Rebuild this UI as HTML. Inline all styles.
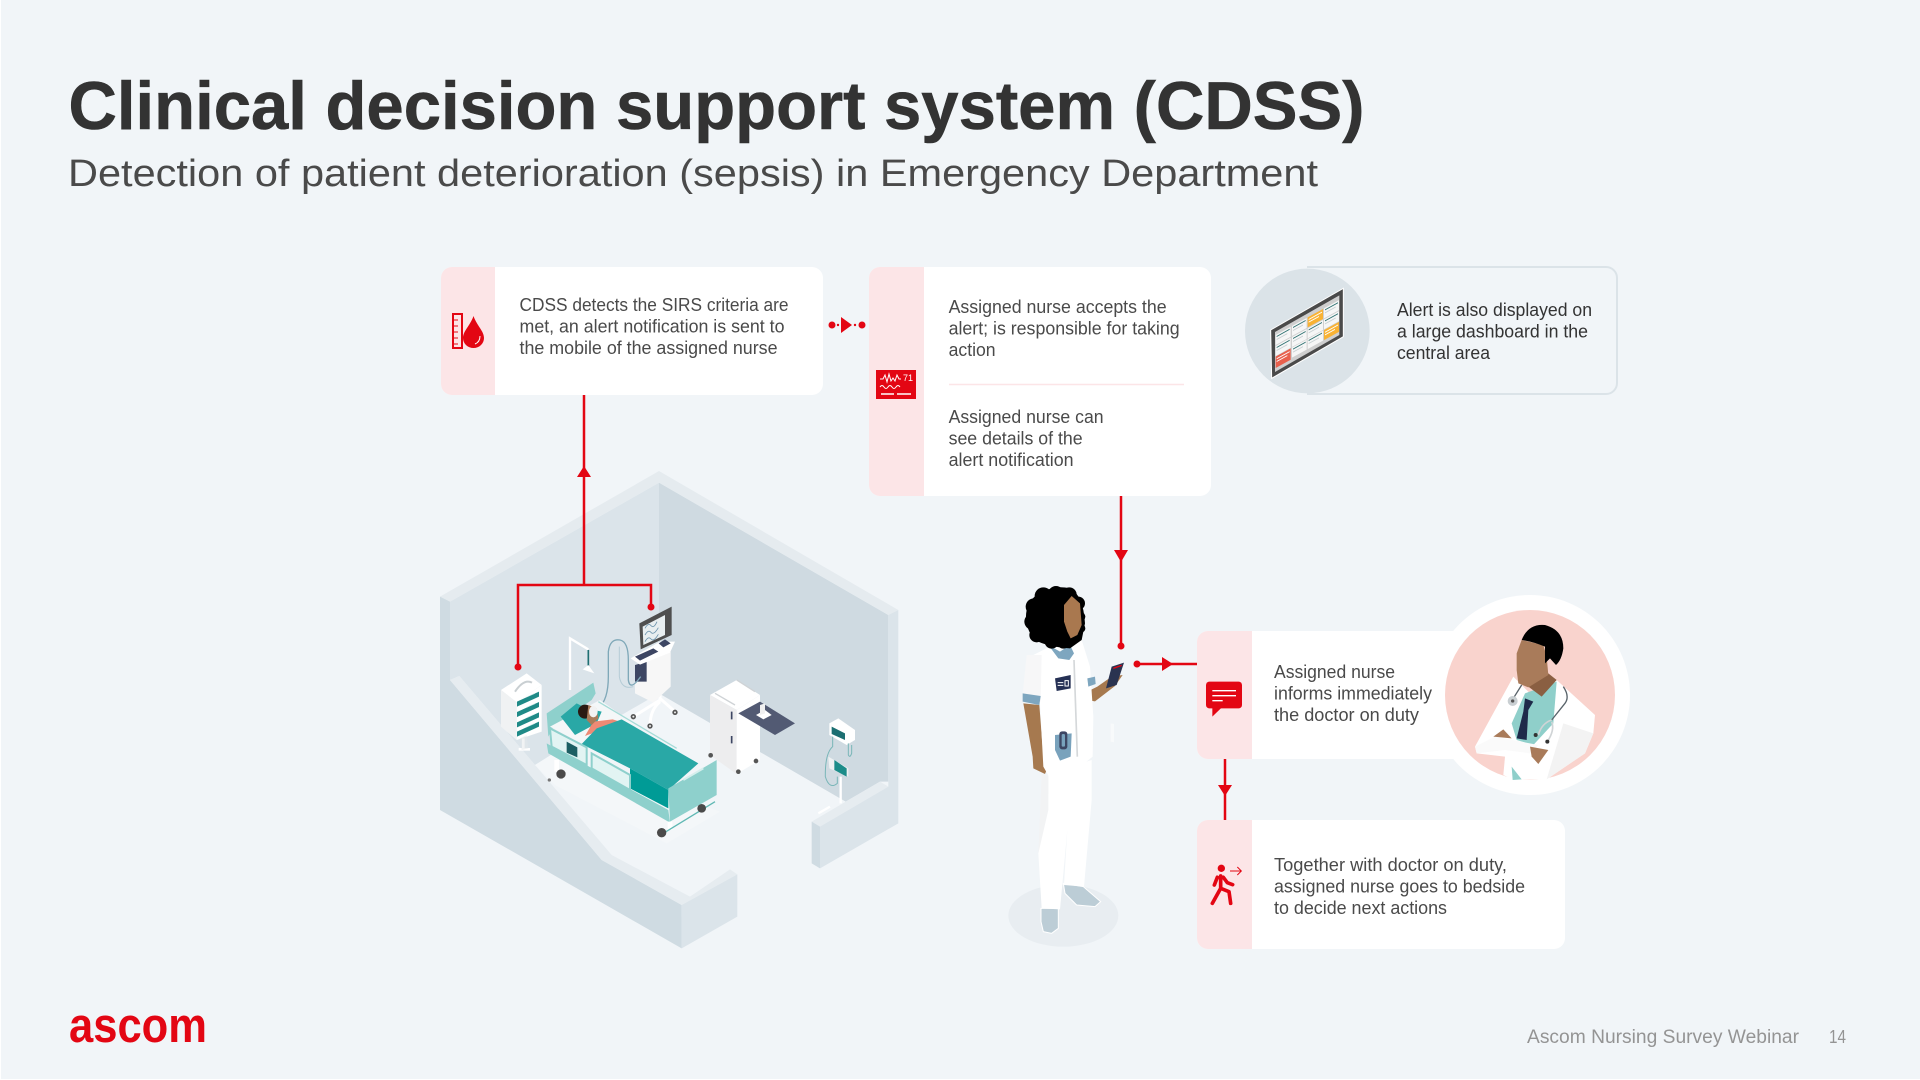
<!DOCTYPE html>
<html lang="en"><head><meta charset="utf-8"><title>Clinical decision support system (CDSS)</title>
<style>
html,body{margin:0;padding:0;background:#fff;width:1920px;height:1080px;overflow:hidden}
svg{display:block}
text{font-family:"Liberation Sans",sans-serif}
.t{font-size:18px;fill:#4a4a4a}
.d{font-size:18px;fill:#333}
</style></head><body>
<svg width="1920" height="1080" viewBox="0 0 1920 1080" xmlns="http://www.w3.org/2000/svg">
<rect x="1" y="0" width="1919" height="1079" fill="#f1f5f8"/>

<!-- Titles -->
<text x="68.500" y="129" font-size="68" font-weight="700" fill="#333" stroke="#333" stroke-width=".6" textLength="1296" lengthAdjust="spacingAndGlyphs">Clinical decision support system (CDSS)</text>
<text x="68" y="186" font-size="38" fill="#4a4a4a" textLength="1250" lengthAdjust="spacingAndGlyphs">Detection of patient deterioration (sepsis) in Emergency Department</text>

<!-- Room -->
<g transform="translate(420,460) scale(.33333)">
<polygon points="90,425 717,68 717,700 345,915 118,648 90,660" fill="#dbe4ea"/>
<polygon points="717,68 1405,465 1405,965 1380,965 1277,1025 717,700" fill="#cfdae1"/>
<polygon points="60,410 717,33 1435,450 1405,465 717,68 90,425" fill="#e5ebef"/>
<polygon points="60,410 90,425 90,660 545,1200 785,1335 785,1465 60,1050" fill="#cfdbe2"/>
<polygon points="90,660 118,648 575,1185 810,1310 930,1228 952,1243 785,1335 545,1200" fill="#e6ecf0"/>
<polygon points="785,1335 952,1243 952,1370 785,1465" fill="#dbe4ea"/>
<polygon points="1175,1085 1380,965 1405,980 1200,1100" fill="#e6ecf0"/>
<polygon points="1175,1085 1200,1100 1200,1225 1175,1210" fill="#cfdbe2"/>
<polygon points="1405,465 1435,450 1435,1090 1200,1225 1200,1100 1405,980" fill="#dbe4ea"/>
<polygon points="345,915 400,880 900,1055 740,1150 405,975" fill="#f4f7f9"/>

<!-- IV pole -->
<path d="M450,690 L450,535 L505,568" fill="none" stroke="#fff" stroke-width="7"/>
<path d="M505,570 V618" stroke="#1f6f72" stroke-width="5"/>
<polygon points="488,628 505,615 523,640 505,634" fill="#fff"/>

<!-- Ventilator -->
<path d="M720,700 L720,725 M720,720 L640,770 M720,715 L765,755 M720,725 Q690,750 690,797" stroke="#fff" stroke-width="9" fill="none"/>
<circle cx="640" cy="770" r="8" fill="#555"/><circle cx="690" cy="798" r="8" fill="#555"/><circle cx="765" cy="757" r="8" fill="#555"/>
<circle cx="640" cy="770" r="3" fill="#eee"/><circle cx="690" cy="798" r="3" fill="#eee"/><circle cx="765" cy="757" r="3" fill="#eee"/>
<polygon points="665,610 752,575 752,680 700,728 645,700 645,620" fill="#f7f7f7"/>
<polygon points="645,615 680,605 680,665 645,665" fill="#3d4663"/>
<path d="M535,745 Q565,720 565,650 L565,575 Q570,535 600,540 Q625,545 625,600 L625,660 Q630,695 662,650" fill="none" stroke="#7fa8b8" stroke-width="4"/>
<path d="M598,560 V650 Q605,690 640,680" fill="none" stroke="#b5ccd6" stroke-width="3"/>
<polygon points="632,595 720,545 765,545 750,578 660,614" fill="#fff"/>
<polygon points="645,590 700,565 715,575 660,602" fill="#3d4663"/>
<polygon points="716,550 735,538 752,550 730,562" fill="#3d4663"/>
<polygon points="658,490 755,440 755,525 662,568" fill="#4f4f4f"/>
<polygon points="668,500 735,465 735,525 670,555" fill="#e8eef0"/>
<path d="M675,505 q10,-18 18,-8 t18,-12 M675,525 q10,-18 18,-8 t22,-14 M675,545 q10,-18 18,-8 t22,-14" fill="none" stroke="#6d94ad" stroke-width="2.500"/>

<!-- Pump cabinet -->
<polygon points="243,690 320,640 365,675 290,727" fill="#fff"/>
<polygon points="243,690 290,727 290,840 243,800" fill="#f0f2f3"/>
<polygon points="290,727 365,675 365,815 290,840" fill="#fff"/>
<path d="M285,695 Q312,655 336,668" fill="none" stroke="#c9cfd2" stroke-width="6"/>
<g fill="#1f8a87">
<polygon points="291,725 357,695 357,710 291,740"/><polygon points="291,756 357,726 357,741 291,771"/>
<polygon points="291,787 357,757 357,772 291,802"/><polygon points="291,815 357,785 357,800 291,830"/>
</g>
<path d="M320,711 L345,700 M320,742 L345,731 M320,773 L345,762 M320,801 L345,790" stroke="#cfe9e8" stroke-width="2"/>
<path d="M310,835 V865 M296,868 H330" stroke="#fff" stroke-width="8"/>
<polygon points="300,835 320,825 325,865 305,870" fill="#e4e7e9" opacity=".5"/>

<!-- Bed -->
<polygon points="380,760 520,668 527,700 515,720 400,800 385,830" fill="#8ed0cc"/>
<polygon points="390,800 540,720 640,790 500,860" fill="#f4f7f8"/>
<polygon points="422,770 470,730 500,745 545,755 530,790 465,825" fill="#29a8a6"/>
<polygon points="495,828 520,785 578,778 600,785 530,815" fill="#ee8a75"/>
<circle cx="495" cy="755" r="21" fill="#2a1a12"/>
<polygon points="505,735 530,745 535,775 515,795 500,780" fill="#a97b5a"/>
<ellipse cx="520" cy="755" rx="13" ry="17" fill="#f2f2f2"/>
<path d="M535,725 L770,865" stroke="#a5dbd7" stroke-width="4" fill="none"/>
<polygon points="485,852 530,805 605,778 835,910 745,990 630,925" fill="#29a8a6"/>
<polygon points="630,925 745,990 745,1045 630,985" fill="#009b96"/>
<polygon points="380,850 745,1050 750,1088 385,880" fill="#8ed0cc"/>
<polygon points="390,805 500,862 500,915 395,860" fill="#e2f4f3" stroke="#8ed0cc" stroke-width="6"/>
<polygon points="440,845 472,862 472,892 440,878" fill="#1c5f63"/>
<polygon points="515,880 630,945 630,990 515,925" fill="#e2f4f3" stroke="#8ed0cc" stroke-width="6"/>
<polygon points="745,985 890,900 890,1005 750,1085" fill="#8ed0cc"/>
<path d="M790,960 L850,925" stroke="#d5efed" stroke-width="6"/>
<path d="M410,900 V935 M750,1085 V1110" stroke="#fff" stroke-width="14"/>
<path d="M738,1115 L885,1025" stroke="#5fb8b3" stroke-width="4"/>
<circle cx="423" cy="942" r="14" fill="#4a4a4a"/><circle cx="725" cy="1118" r="14" fill="#4a4a4a"/><circle cx="845" cy="1045" r="13" fill="#4a4a4a"/>
<circle cx="388" cy="960" r="5" fill="#777"/>

<!-- Cart -->
<polygon points="870,705 950,660 1020,705 950,750" fill="#fff"/>
<polygon points="870,705 950,750 950,942 870,885" fill="#ededee"/>
<polygon points="950,750 1020,705 1020,900 950,942" fill="#fff"/>
<path d="M885,700 L945,735 M950,660 L1005,695" stroke="#cfd3d6" stroke-width="4"/>
<path d="M935,755 V778 M935,828 V850" stroke="#3d4663" stroke-width="5"/>
<circle cx="872" cy="886" r="7" fill="#555"/><circle cx="955" cy="935" r="7" fill="#555"/><circle cx="1008" cy="903" r="7" fill="#555"/>
<polygon points="955,760 1020,725 1125,790 1065,825" fill="#525a73"/>
<polygon points="1008,765 1035,750 1055,765 1030,778" fill="#fff"/>
<polygon points="1020,735 1035,730 1035,760 1020,765" fill="#f0f0f0"/>

<!-- Wall unit -->
<path d="M1262,950 V1030 M1195,1060 L1230,1040" stroke="#fff" stroke-width="7"/>
<polygon points="1228,790 1255,775 1305,810 1305,840 1280,855 1228,825" fill="#fff"/>
<polygon points="1235,800 1275,820 1275,840 1235,822" fill="#1c6f72"/>
<path d="M1238,830 V860 Q1215,880 1216,950 Q1228,990 1252,970 V950 M1285,850 V885 Q1290,895 1295,880 V855" fill="none" stroke="#79b6b8" stroke-width="3"/>
<polygon points="1225,890 1285,925 1285,950 1228,925" fill="#eef1f2"/>
<polygon points="1243,900 1280,925 1280,950 1243,930" fill="#1c8c89"/>
</g>

<!-- Connectors -->
<g fill="none" stroke="#e30613" stroke-width="2.500">
<path d="M584,395 V585 M518,667 V585 H651 V607"/>
<path d="M1121,496 V646 M1137,664 H1197 M1225,759 V820"/>
</g>
<g fill="#e30613">
<polygon points="584,466 591,477 577,477"/>
<circle cx="518" cy="667" r="3.500"/><circle cx="651" cy="607" r="3.500"/>
<polygon points="1121,562 1114,550 1128,550"/>
<circle cx="1121" cy="646" r="3.500"/><circle cx="1137" cy="664" r="3.500"/>
<polygon points="1173,664 1162,657 1162,671"/>
<polygon points="1225,796 1218,785 1232,785"/>
<circle cx="832" cy="325" r="3.500"/><circle cx="862" cy="325" r="3.500"/><circle cx="838" cy="325" r="1.200"/><circle cx="855" cy="325" r="1.200"/>
<polygon points="852,325 841,317 841,333"/>
</g>

<!-- Card 1 -->
<rect x="441" y="267" width="382" height="128" rx="11" fill="#fff"/>
<path d="M495,267 H452 a11,11 0 0 0 -11,11 V384 a11,11 0 0 0 11,11 H495 Z" fill="#fce5e7"/>
<rect x="453" y="314" width="9" height="34" fill="#fce5e7" stroke="#e30613" stroke-width="2"/>
<path d="M454,320 h4 M454,326 h4 M454,332 h4 M454,338 h4 M454,344 h4" stroke="#e30613" stroke-width="1"/>
<path d="M473.500,316 C477,326 484,331 484,338 A10.500,10 0 0 1 463,338 C463,331 470,326 473.500,316 Z" fill="#e30613"/>
<path d="M480,336 Q480,342 475,344" fill="none" stroke="#fff" stroke-width="1"/>
<text class="t" x="519.500" y="311" textLength="269" lengthAdjust="spacingAndGlyphs">CDSS detects the SIRS criteria are</text>
<text class="t" x="519.500" y="332.500" textLength="265" lengthAdjust="spacingAndGlyphs">met, an alert notification is sent to</text>
<text class="t" x="519.500" y="354" textLength="258" lengthAdjust="spacingAndGlyphs">the mobile of the assigned nurse</text>

<!-- Card 2 -->
<rect x="869" y="267" width="342" height="229" rx="11" fill="#fff"/>
<path d="M924,267 H880 a11,11 0 0 0 -11,11 V485 a11,11 0 0 0 11,11 H924 Z" fill="#fce5e7"/>
<rect x="876" y="370" width="40" height="29" fill="#e30613"/>
<path d="M880,379 h3 l2,-4 l2,7 l2,-8 l2,7 l2,-3 l2,3 l2,-6 l2,4 h2 M880,387 q2,-3 4,0 t4,0 t4,0 t4,0 t4,0" fill="none" stroke="#fff" stroke-width="1"/>
<path d="M881,394 h13 M897,394 h14" stroke="#fff" stroke-width="1.600"/>
<text x="903" y="381" font-size="9" fill="#fff">71</text>
<text class="t" x="948.600" y="313" textLength="218" lengthAdjust="spacingAndGlyphs">Assigned nurse accepts the</text>
<text class="t" x="948.600" y="334.500" textLength="231" lengthAdjust="spacingAndGlyphs">alert; is responsible for taking</text>
<text class="t" x="948.600" y="356" textLength="47" lengthAdjust="spacingAndGlyphs">action</text>
<path d="M949,384.500 H1184" stroke="#fce5e7" stroke-width="1.500"/>
<text class="t" x="948.600" y="423" textLength="155" lengthAdjust="spacingAndGlyphs">Assigned nurse can</text>
<text class="t" x="948.600" y="444.500" textLength="134" lengthAdjust="spacingAndGlyphs">see details of the</text>
<text class="t" x="948.600" y="466" textLength="125" lengthAdjust="spacingAndGlyphs">alert notification</text>

<!-- Dashboard card -->
<path d="M1307,267 H1606 a11,11 0 0 1 11,11 V383 a11,11 0 0 1 -11,11 H1307" fill="none" stroke="#dbe3e8" stroke-width="2"/>
<g transform="translate(1220,240) scale(.33333)">
<circle cx="262" cy="273" r="187" fill="#dbe3e8"/>
<polygon points="152,270 370,145 370,290 155,415" fill="#4a4a4a" stroke="#fff" stroke-width="3"/>
<polygon points="165,276 358,166 358,285 165,396" fill="#cfcfcf"/>
<g transform="matrix(1,-.55,0,1,167,0)">
<g fill="#f6f6f6">
<rect x="0" y="285" width="45" height="30"/><rect x="49" y="285" width="44" height="30"/><rect x="145" y="285" width="45" height="30"/>
<rect x="0" y="318" width="45" height="30"/><rect x="49" y="318" width="44" height="30"/><rect x="96" y="318" width="46" height="30"/><rect x="145" y="318" width="45" height="30"/>
<rect x="49" y="350" width="44" height="30"/><rect x="96" y="350" width="46" height="30"/>
</g>
<rect x="96" y="285" width="46" height="30" fill="#f9b233"/>
<rect x="145" y="350" width="45" height="30" fill="#f9b233"/>
<rect x="0" y="350" width="45" height="34" fill="#e8604c"/>
<path d="M3,291 H42 M52,291 H90 M148,291 H187 M3,324 H42 M52,324 H90 M99,324 H139 M148,324 H187 M52,356 H90 M99,356 H139" stroke="#2d7070" stroke-width="3"/>
<path d="M3,300 H35 M52,300 H82 M148,300 H180 M3,333 H35 M52,333 H82 M99,333 H130 M148,333 H180 M52,365 H82 M99,365 H130" stroke="#c8d0d2" stroke-width="3"/>
<path d="M99,293 H139 M99,301 H130 M148,358 H187 M148,366 H178 M3,358 H42 M3,366 H35" stroke="#fff" stroke-width="3"/>
</g>
</g>
<text class="d" x="1397" y="316" textLength="195" lengthAdjust="spacingAndGlyphs">Alert is also displayed on</text>
<text class="d" x="1397" y="337.500" textLength="191" lengthAdjust="spacingAndGlyphs">a large dashboard in the</text>
<text class="d" x="1397" y="359" textLength="93" lengthAdjust="spacingAndGlyphs">central area</text>

<!-- Nurse -->
<g transform="translate(980,560) scale(.33333)">
<ellipse cx="250" cy="1067" rx="165" ry="93" fill="#e8edf1"/>
<polygon points="250,970 310,980 362,1025 345,1040 290,1035 255,1000" fill="#bccdd6" stroke="#fff" stroke-width="3"/>
<polygon points="183,1045 235,1045 235,1105 215,1120 190,1115 183,1085" fill="#bccdd6" stroke="#fff" stroke-width="3"/>
<polygon points="205,640 335,600 335,720 312,980 252,975 262,810 240,1048 185,1045 175,880 205,700" fill="#fff"/>
<polygon points="185,640 205,650 205,750 175,880" fill="#f2f3f4"/>
<polygon points="130,430 178,435 190,590 208,610 195,642 160,625 158,590" fill="#a6794f"/>
<polygon points="322,395 320,420 345,424 405,378 428,345 395,350 352,380" fill="#a6794f"/>
<polygon points="160,285 205,262 275,242 305,240 330,320 340,470 338,590 295,625 210,655 190,620 180,430 150,400" fill="#fff"/>
<polygon points="140,285 185,285 182,425 128,402" fill="#f7f7f8"/>
<polygon points="128,400 182,408 178,435 128,425" fill="#7ea6bf"/>
<polygon points="322,355 345,350 347,372 325,380" fill="#7ea6bf"/>
<polygon points="205,255 240,275 270,255 282,280 268,300 235,295" fill="#7ea6bf"/>
<path d="M282,300 L292,590" stroke="#d5d8da" stroke-width="5"/>
<polygon points="225,355 272,345 272,385 230,393" fill="#253054"/>
<path d="M233,368 H250 M233,376 H250 M255,362 H265 V378 H255Z" stroke="#fff" stroke-width="3" fill="none"/>
<polygon points="225,525 275,520 272,590 240,602 225,570" fill="#79a2bc"/>
<rect x="238" y="514" width="24" height="54" rx="8" fill="#3d4663"/>
<rect x="245" y="522" width="10" height="38" rx="4" fill="#79a2bc"/>
<polygon points="395,320 432,308 410,375 378,385" fill="#2a3350"/>
<path d="M400,325 L425,316" stroke="#e30613" stroke-width="4"/>
<g fill="#000">
<path d="M190,95 Q225,75 270,85 Q310,105 315,190 L305,240 L270,265 Q200,260 165,240 Q130,200 140,150 Q150,110 190,95Z"/>
<circle cx="190" cy="108" r="26"/><circle cx="228" cy="102" r="24"/><circle cx="268" cy="104" r="22"/><circle cx="295" cy="130" r="20"/>
<circle cx="303" cy="170" r="13"/><circle cx="303" cy="205" r="13"/><circle cx="162" cy="140" r="25"/><circle cx="157" cy="185" r="24"/>
<circle cx="170" cy="225" r="22"/><circle cx="215" cy="245" r="21"/><circle cx="250" cy="248" r="18"/>
</g>
<polygon points="252,135 275,108 300,130 305,195 292,225 272,235 262,215 252,185" fill="#a9784f"/>
<polygon points="392,490 402,492 402,547 392,545" fill="#f8fafb"/>
</g>

<!-- Card 3 -->
<rect x="1197" y="631" width="340" height="128" rx="11" fill="#fff"/>
<path d="M1252,631 H1208 a11,11 0 0 0 -11,11 V748 a11,11 0 0 0 11,11 H1252 Z" fill="#fce5e7"/>
<g transform="translate(1180,590) scale(.33333)">
<rect x="78" y="275" width="108" height="80" rx="10" fill="#e30613"/>
<polygon points="97,350 97,380 128,350" fill="#e30613"/>
<path d="M97,302 H168 M97,317 H168 M97,332 H128" stroke="#fff" stroke-width="4"/>
<circle cx="1050" cy="315" r="300" fill="#fff"/>
<circle cx="1050" cy="315" r="255" fill="#f9d3cd"/>
<polygon points="885,470 1000,260 1050,310 1130,270 1245,375 1240,430 1215,490 1100,568 1000,570 970,555 975,500 890,490" fill="#fff"/>
<polygon points="1150,400 1240,430 1215,490 1100,568" fill="#f3f3f3"/>
<polygon points="995,530 1025,568 998,570" fill="#8fcfca"/>
<polygon points="1035,310 1130,275 1120,400 1060,465 1010,450 995,400" fill="#8fcfca"/>
<polygon points="1035,325 1060,335 1045,360 1040,450 1010,445 1030,365" fill="#1e2a4a"/>
<polygon points="1045,290 1105,250 1130,270 1085,320" fill="#8a5f42"/>
<polygon points="1010,190 1025,150 1090,165 1100,200 1105,255 1045,292 1015,280 1010,240" fill="#a97b5a"/>
<path d="M1025,150 Q1045,100 1095,105 Q1150,120 1150,175 Q1145,210 1128,225 L1110,205 L1095,220 L1095,170 Q1060,155 1025,150Z" fill="#000"/>
<path d="M1025,285 L1000,325 M1150,290 Q1170,320 1155,340 L1115,390" fill="none" stroke="#59636a" stroke-width="4"/>
<circle cx="998" cy="333" r="15" fill="#c9cfd2"/><circle cx="998" cy="333" r="5" fill="#555"/>
<path d="M1115,390 Q1085,400 1075,435 M1115,395 Q1125,420 1102,455" fill="none" stroke="#d0d4d6" stroke-width="5"/>
<circle cx="1067" cy="435" r="6" fill="#333"/><circle cx="1102" cy="455" r="6" fill="#333"/>
<polygon points="885,470 945,440 1075,465 1050,490 975,480 890,490" fill="#fafafa"/>
<polygon points="940,440 970,418 995,445" fill="#a97b5a"/>
<polygon points="1050,470 1105,480 1075,522 1055,500" fill="#a97b5a"/>
</g>
<text class="t" x="1274" y="678" textLength="121" lengthAdjust="spacingAndGlyphs">Assigned nurse</text>
<text class="t" x="1274" y="699.500" textLength="158" lengthAdjust="spacingAndGlyphs">informs immediately</text>
<text class="t" x="1274" y="721" textLength="145" lengthAdjust="spacingAndGlyphs">the doctor on duty</text>

<!-- Card 4 -->
<rect x="1197" y="820" width="368" height="129" rx="11" fill="#fff"/>
<path d="M1252,820 H1208 a11,11 0 0 0 -11,11 V938 a11,11 0 0 0 11,11 H1252 Z" fill="#fce5e7"/>
<g transform="translate(1180,590) scale(.33333)">
<circle cx="124" cy="835" r="11" fill="#e30613"/>
<path d="M122,858 L122,895 L97,940 M122,895 L147,905 L152,940 M112,862 L103,885 M130,862 L142,878 L158,884" fill="none" stroke="#e30613" stroke-width="11" stroke-linecap="round" stroke-linejoin="round"/>
<path d="M150,843 H183 M172,831 L184,843 L172,855" fill="none" stroke="#e30613" stroke-width="3"/>
</g>
<text class="t" x="1274" y="871" textLength="233" lengthAdjust="spacingAndGlyphs">Together with doctor on duty,</text>
<text class="t" x="1274" y="892.500" textLength="251" lengthAdjust="spacingAndGlyphs">assigned nurse goes to bedside</text>
<text class="t" x="1274" y="914" textLength="173" lengthAdjust="spacingAndGlyphs">to decide next actions</text>

<!-- Footer -->
<text x="69" y="1042" font-size="49" font-weight="700" fill="#e30613" textLength="138" lengthAdjust="spacingAndGlyphs">ascom</text>
<text x="1527" y="1043" font-size="19" fill="#949494" textLength="272" lengthAdjust="spacingAndGlyphs">Ascom Nursing Survey Webinar</text>
<text x="1829" y="1043" font-size="18" fill="#949494" textLength="17" lengthAdjust="spacingAndGlyphs">14</text>
</svg>
</body></html>
